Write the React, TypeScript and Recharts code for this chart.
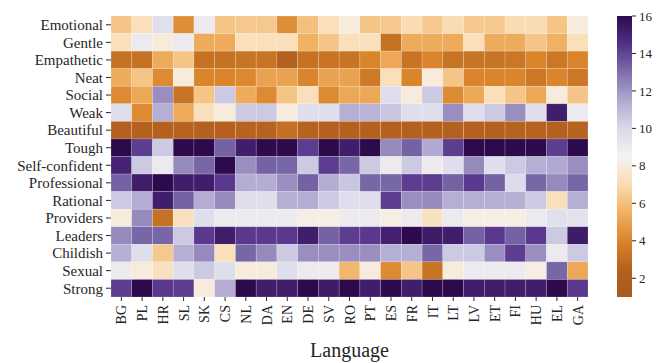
import React from "react";
import { ScatterChart, Scatter, XAxis, YAxis, ReferenceLine, BarChart, Bar } from "recharts";

const languages = ["BG", "PL", "HR", "SL", "SK", "CS", "NL", "DA", "EN", "DE", "SV", "RO", "PT", "ES", "FR", "IT", "LT", "LV", "ET", "FI", "HU", "EL", "GA"];

const traits = ["Emotional", "Gentle", "Empathetic", "Neat", "Social", "Weak", "Beautiful", "Tough", "Self-confident", "Professional", "Rational", "Providers", "Leaders", "Childish", "Sexual", "Strong"];

// one array per trait, values in language order
const emotional = [6.2, 7.2, 9.6, 4.3, 9, 6.2, 6.3, 6.3, 4.3, 6, 7.2, 8, 6.2, 6.3, 7, 6.3, 7, 6.3, 6.3, 7, 7, 6.2, 8];
const gentle = [7.2, 9, 8, 9, 5.3, 5.3, 7.2, 7.2, 7.2, 5.5, 6.2, 7.2, 7.2, 3.2, 5.3, 5.3, 5.3, 7.2, 5.3, 5.3, 6.2, 5.5, 7.2];
const empathetic = [3.2, 3.2, 5.3, 6.2, 3.2, 3.2, 3.3, 3.3, 2.5, 3.2, 3.3, 3.3, 4, 5.2, 3.3, 4, 3.3, 3.3, 3.3, 3.4, 4, 3.4, 4];
const neat = [5.3, 6.2, 4.2, 8, 4, 4, 4.1, 5, 5, 4, 5, 5, 3.5, 7.2, 4, 8, 6.2, 4, 4, 4, 3.4, 4, 3.4];
const social = [4.2, 5.2, 12.2, 3.3, 6.2, 10.5, 5.3, 4.2, 6.2, 7.2, 4.2, 5.2, 5.2, 9.7, 8, 10.5, 4.2, 5.2, 7.2, 6.2, 5.2, 8, 6.2];
const weak = [9.7, 4.2, 11.3, 5.3, 7.3, 8, 10.5, 10.5, 8, 9.7, 9.7, 11.3, 11.2, 10.6, 9.7, 9.7, 12.2, 9.7, 10.5, 12.2, 9.7, 15.2, 9];
const beautiful = [2.5, 2.5, 2.5, 2.6, 2.5, 2.5, 2.6, 2.6, 3.1, 2.6, 2.5, 2.5, 2.5, 2.5, 2.5, 2.5, 2.5, 2.5, 2.5, 2.6, 2.6, 2.5, 2.6];
const tough = [16, 14.2, 10.5, 16, 16, 13.3, 15.2, 16, 16, 14.2, 16, 15.2, 16, 12.3, 13.3, 11.5, 14.2, 16, 16, 16, 16, 14.2, 16];
const selfConfident = [15, 10.5, 9, 12.3, 13.2, 16, 12.2, 13.3, 13.2, 10.5, 14.2, 13.2, 10.5, 9, 10.5, 8.9, 9.7, 12.3, 9.7, 10.5, 11.3, 11.5, 12.2];
const professional = [13.3, 15.2, 16, 15.2, 15.2, 14.3, 11.4, 11.4, 12.2, 13.3, 11.4, 10.6, 13.2, 13.2, 14.2, 14.2, 13.3, 14.3, 13.3, 9.8, 13.2, 12.3, 13.2];
const rational = [10.5, 11.4, 15.2, 13.3, 11.4, 12.3, 9.7, 9.7, 11.3, 11.4, 10.5, 9.7, 9.7, 14.2, 12.2, 12.3, 11.3, 11.3, 11.3, 11.3, 10.5, 7.2, 11.3];
const providers = [8, 12.3, 3.2, 7.3, 9.7, 9, 9, 9, 9, 8.2, 8.2, 9, 9, 8.2, 9, 7.3, 9, 8.2, 8.2, 8.2, 9, 9.6, 9.5];
const leaders = [12.3, 13.2, 13.2, 10.5, 14.3, 15.2, 14.3, 14.3, 14.3, 15.2, 13.3, 14.2, 14.3, 15.1, 16, 15.3, 15.2, 13.3, 14.3, 13.3, 14.3, 10.5, 15.3];
const childish = [11.3, 9.7, 6.3, 11.3, 12.3, 7.2, 13.2, 12.3, 10.5, 12.2, 12.2, 12.2, 12.2, 11.3, 11.3, 13.2, 10.5, 10.5, 12.2, 14.2, 12.2, 9, 10.5];
const sexual = [9, 8, 7.3, 9.7, 10.5, 9.7, 8, 8, 9.7, 9, 9, 5.7, 8, 4.2, 6.2, 3.3, 8, 9, 9, 9, 8.2, 13.2, 5.2];
const strong = [14.2, 16, 14.3, 14.2, 8, 11.4, 16, 15.2, 15.2, 16, 15.3, 16, 15.2, 16, 15.2, 16, 16, 15.2, 15.2, 15.2, 15.2, 16, 14.3];

const rows = [emotional, gentle, empathetic, neat, social, weak, beautiful, tough, selfConfident, professional, rational, providers, leaders, childish, sexual, strong];

const colorTicks = [2, 4, 6, 8, 10, 12, 14, 16];
const vMin = 1;
const vMax = 16;

// PuOr-like colour map, orange (low) to purple (high)
const cmap: [number, string][] = [
  [0.0, "#a65a22"],
  [0.1, "#b4611f"],
  [0.2, "#da852b"],
  [0.3, "#f0b162"],
  [0.4, "#fadcb2"],
  [0.5, "#f5f2f0"],
  [0.6, "#d9d9eb"],
  [0.7, "#b1a9d1"],
  [0.8, "#7e6fab"],
  [0.9, "#533088"],
  [1.0, "#2c0a4b"],
];

const hexToRgb = (h: string) => [1, 3, 5].map((i) => parseInt(h.slice(i, i + 2), 16));

const colorFor = (v: number) => {
  const t = Math.max(0, Math.min(1, (v - vMin) / (vMax - vMin)));
  for (let i = 0; i < cmap.length - 1; i++) {
    const [t0, c0] = cmap[i];
    const [t1, c1] = cmap[i + 1];
    if (t <= t1) {
      const f = (t - t0) / (t1 - t0);
      const a = hexToRgb(c0);
      const b = hexToRgb(c1);
      const rgb = a.map((x, k) => Math.round(x + (b[k] - x) * f));
      return `rgb(${rgb.join(",")})`;
    }
  }
  return cmap[cmap.length - 1][1];
};

const cells = rows.flatMap((vals, r) => vals.map((value, c) => ({ x: c, y: r, value })));

const W = 659;
const H = 363;
const margin = { top: 16, right: 71, bottom: 0, left: 0 };
const yAxisWidth = 111;
const xAxisHeight = 66;
const cellW = (W - margin.left - margin.right - yAxisWidth) / languages.length;
const cellH = (H - margin.top - margin.bottom - xAxisHeight) / traits.length;

const font = "'Liberation Serif', 'Times New Roman', serif";
const textColor = "#262626";

const HeatCell = (props: any) => {
  const { cx, cy, payload } = props;
  return (
    <rect
      x={cx - cellW / 2}
      y={cy - cellH / 2}
      width={cellW}
      height={cellH}
      fill={colorFor(payload.value)}
      stroke="rgba(255,255,255,0.3)"
      strokeWidth={0.6}
    />
  );
};

const LangTick = (props: any) => {
  const { x, y, payload } = props;
  return (
    <g transform={`translate(${x},${y})`}>
      <text
        transform="rotate(-90)"
        x={-2}
        y={0}
        dy="0.36em"
        textAnchor="end"
        fontFamily={font}
        fontSize={14}
        fill={textColor}
      >
        {languages[payload.value]}
      </text>
    </g>
  );
};

export default function App() {
  return (
    <div style={{ position: "absolute", left: 0, top: 0, width: W, height: H, background: "#fff" }}>
      <div style={{ position: "absolute", left: 0, top: 0 }}>
        <ScatterChart width={W} height={H} margin={margin}>
          <XAxis
            type="number"
            dataKey="x"
            domain={[-0.5, languages.length - 0.5]}
            ticks={languages.map((_, i) => i)}
            interval={0}
            tick={<LangTick />}
            tickSize={4}
            tickMargin={2}
            tickLine={{ stroke: textColor }}
            axisLine={false}
            height={xAxisHeight}
            label={{
              value: "Language",
              position: "insideBottom",
              offset: 6,
              style: { fontFamily: font, fontSize: 20, fill: textColor },
            }}
          />
          <YAxis
            type="number"
            dataKey="y"
            domain={[-0.5, traits.length - 0.5]}
            reversed
            ticks={traits.map((_, i) => i)}
            interval={0}
            tickFormatter={(i: number) => traits[i]}
            width={yAxisWidth}
            tickSize={5}
            tickMargin={3}
            tickLine={{ stroke: textColor }}
            axisLine={false}
            tick={{ fontFamily: font, fontSize: 15, fill: textColor }}
          />
          <Scatter data={cells} shape={<HeatCell />} isAnimationActive={false} />
          <ReferenceLine y={6.5} stroke="#e0221b" strokeWidth={3} />
        </ScatterChart>
      </div>
      <div style={{ position: "absolute", left: 600, top: 0 }}>
        <BarChart
          width={59}
          height={H}
          data={[{ name: "scale", range: [vMin, vMax] }]}
          margin={{ top: 16, right: 0, bottom: 66, left: 17 }}
          barCategoryGap={0}
        >
          <defs>
            <linearGradient id="cbar" x1="0" y1="1" x2="0" y2="0">
              {cmap.map(([t, c]) => (
                <stop key={t} offset={`${t * 100}%`} stopColor={c} />
              ))}
            </linearGradient>
          </defs>
          <XAxis dataKey="name" hide />
          <YAxis
            orientation="right"
            type="number"
            domain={[vMin, vMax]}
            ticks={colorTicks}
            interval={0}
            width={27}
            tickSize={4}
            tickMargin={3}
            axisLine={false}
            tickLine={{ stroke: textColor }}
            tick={{ fontFamily: font, fontSize: 13, fill: textColor }}
          />
          <Bar dataKey="range" fill="url(#cbar)" isAnimationActive={false} />
        </BarChart>
      </div>
    </div>
  );
}
